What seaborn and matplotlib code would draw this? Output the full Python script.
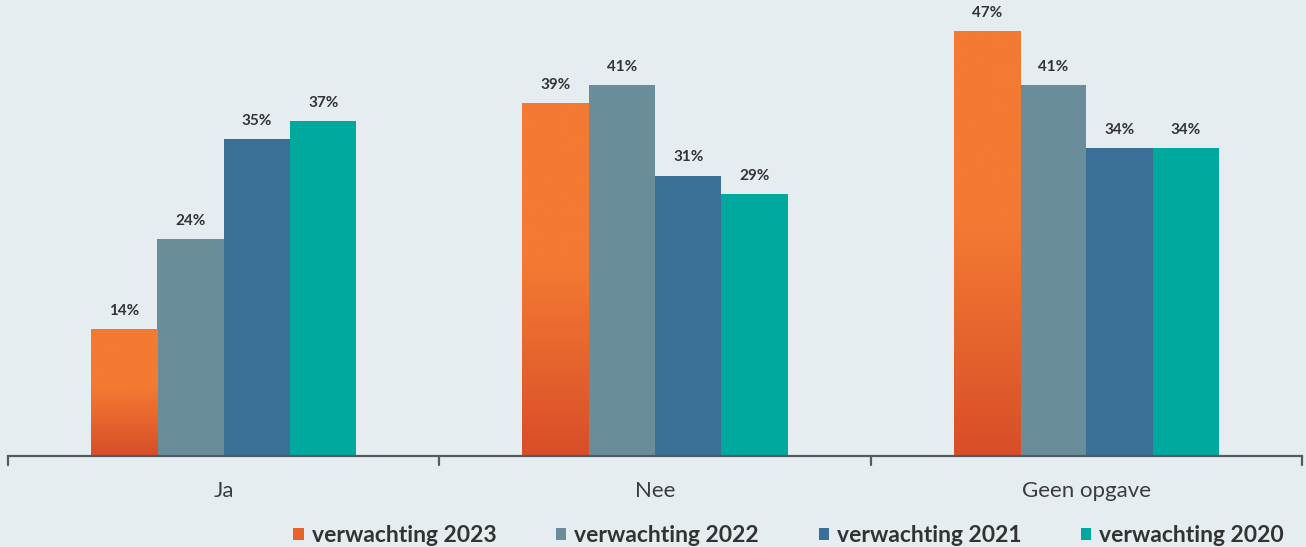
import numpy as np
import pandas as pd
import matplotlib
matplotlib.use("Agg")
import matplotlib.pyplot as plt
import seaborn as sns
from matplotlib.colors import LinearSegmentedColormap
from matplotlib.patches import Patch

# Data
categories = ["Ja", "Nee", "Geen opgave"]
series = ["verwachting 2023", "verwachting 2022", "verwachting 2021", "verwachting 2020"]
v2023 = [14, 39, 47]
v2022 = [24, 41, 41]
v2021 = [35, 31, 34]
v2020 = [37, 29, 34]

colors = ["#F47A33", "#6A8D9C", "#3A7096", "#00A99D"]
bg = "#E5EDF0"

df = pd.DataFrame({
    "categorie": categories * 4,
    "reeks": [s for s in series for _ in categories],
    "waarde": v2023 + v2022 + v2021 + v2020,
})

sns.set_theme(style="white")
plt.rcParams["font.family"] = ["Lato", "DejaVu Sans"]

fig = plt.figure(figsize=(13.06, 5.47), dpi=100, facecolor=bg)
ax = fig.add_axes([8 / 1306, 91 / 547, 1294 / 1306, 456 / 547])
ax.set_facecolor(bg)

sns.barplot(data=df, x="categorie", y="waarde", hue="reeks", order=categories,
            hue_order=series, palette=colors, width=0.615, saturation=1,
            linewidth=0, legend=False, ax=ax)

ax.set_xlim(-0.5, 2.5)
ax.set_ylim(0, 50.4)

# Vertical gradient on the 2023 bars
grad = LinearSegmentedColormap.from_list(
    "oranje", [(0.0, "#D84E28"), (0.55, "#F47A33"), (1.0, "#F47A33")])
for bar in ax.containers[0]:
    x0, y0 = bar.get_x(), bar.get_y()
    w, h = bar.get_width(), bar.get_height()
    img = ax.imshow(np.linspace(0, 1, 256).reshape(-1, 1), cmap=grad,
                    extent=[x0, x0 + w, y0, y0 + h], origin="lower",
                    aspect="auto", zorder=bar.get_zorder() + 0.1)
    img.set_clip_path(bar)

# Value labels
for cont in ax.containers:
    for bar in cont:
        h = bar.get_height()
        ax.annotate(f"{h:.0f}%", (bar.get_x() + bar.get_width() / 2, h),
                    xytext=(0, 8), textcoords="offset points", ha="center",
                    va="bottom", fontsize=11, fontweight="bold", color="#333333")

# Axes styling
for side in ["top", "right", "left"]:
    ax.spines[side].set_visible(False)
ax.spines["bottom"].set_color("#555A60")
ax.spines["bottom"].set_linewidth(1.6)
ax.set_yticks([])
ax.set_xlabel("")
ax.set_ylabel("")
ax.set_xticks([0, 1, 2])
ax.set_xticklabels(categories, fontsize=16, fontweight="normal", color="#3C3C3C")
ax.tick_params(axis="x", length=0, pad=18)
for xb in [-0.5, 0.5, 1.5, 2.5]:
    ax.plot([xb, xb], [0, -1.0], color="#555A60", lw=1.6, clip_on=False)
ax.set_xlim(-0.5, 2.5)
ax.set_ylim(0, 50.4)

# Legend
handles = [Patch(facecolor=c, edgecolor="none") for c in colors]
handles[0] = Patch(facecolor="#E8622D", edgecolor="none")
leg = fig.legend(handles, series, loc="center", bbox_to_anchor=(0.604, 0.021),
                 ncol=4, frameon=False, handlelength=0.45, handleheight=0.45,
                 handletextpad=0.35, columnspacing=2.6,
                 prop={"family": ["Lato", "DejaVu Sans"], "weight": "bold", "size": 16.5})
for t in leg.get_texts():
    t.set_color("#333333")

fig.savefig("out.png", dpi=100, facecolor=bg)
